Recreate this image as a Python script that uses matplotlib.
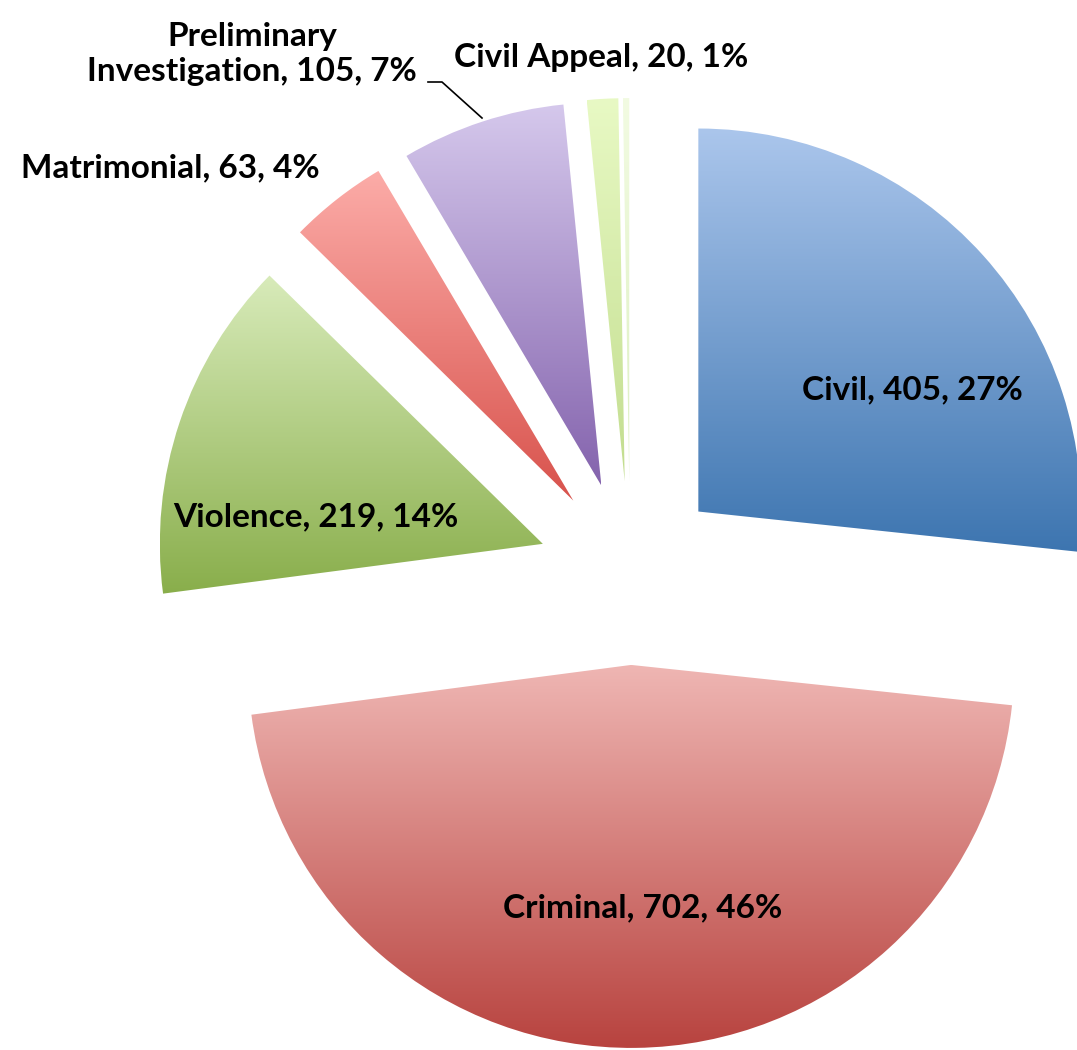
import numpy as np
import matplotlib
matplotlib.use('Agg')
import matplotlib.pyplot as plt
from matplotlib.colors import LinearSegmentedColormap

plt.rcParams['font.family'] = ['Lato', 'DejaVu Sans']

# ------------------ data ------------------
categories = ['Civil', 'Criminal', 'Violence', 'Matrimonial',
              'Preliminary\nInvestigation', 'Civil Appeal', '']
values = [405, 702, 219, 63, 105, 20, 4]
pcts = ['27%', '46%', '14%', '4%', '7%', '1%', '']

# gradient top -> bottom for each slice
grad_colors = [
    ('#abc6ec', '#3d75b0'),
    ('#efb6b3', '#b8433f'),
    ('#d8ebba', '#89ae4b'),
    ('#fcaca8', '#d8524c'),
    ('#d5c8ec', '#8463ad'),
    ('#e8f9c4', '#c2dd8e'),
    ('#f2fbe2', '#dcefc0'),
]

W, H = 1077, 1050
CX, CY, R = 630, 573, 383   # pie centre and radius in pixels


def px(x, y):
    # pixel -> data coords
    return (x - CX) / R, (CY - y) / R


fig = plt.figure(figsize=(W / 100, H / 100), dpi=100)
ax = fig.add_axes([0, 0, 1, 1])
ax.axis('off')

wedges, _ = ax.pie(values, startangle=90, counterclock=False,
                   explode=[0.24] * len(values), radius=1,
                   wedgeprops=dict(linewidth=0, edgecolor='none'))

for w, (c_top, c_bot) in zip(wedges, grad_colors):
    w.set_facecolor('none')
    cx, cy = w.center
    t = np.radians(np.linspace(w.theta1, w.theta2, 100))
    xs = np.concatenate([[cx], cx + w.r * np.cos(t)])
    ys = np.concatenate([[cy], cy + w.r * np.sin(t)])
    cmap = LinearSegmentedColormap.from_list('g', [c_bot, c_top])
    grad = np.linspace(0, 1, 256).reshape(-1, 1)
    im = ax.imshow(grad, cmap=cmap, origin='lower', aspect='auto',
                   extent=(xs.min(), xs.max(), ys.min(), ys.max()), zorder=1)
    im.set_clip_path(w)

ax.set_xlim(-CX / R, (W - CX) / R)
ax.set_ylim(-(H - CY) / R, CY / R)

# ------------------ labels ------------------
label_px = [(912, 390), (643, 908), (316, 517), (170, 168),
            (252, 54), (601, 57)]
fs = 24
for i, (x, y) in enumerate(label_px):
    txt = f'{categories[i]}, {values[i]}, {pcts[i]}'
    ax.text(*px(x, y), txt, ha='center', va='center', fontsize=fs,
            fontweight='bold', color='black', linespacing=1.27, zorder=5)

# leader line for Preliminary Investigation
lx, ly = zip(px(428, 82), px(442, 82), px(482, 118))
ax.plot(lx, ly, color='black', lw=1.2, zorder=5)

fig.savefig('out.png', dpi=100)
